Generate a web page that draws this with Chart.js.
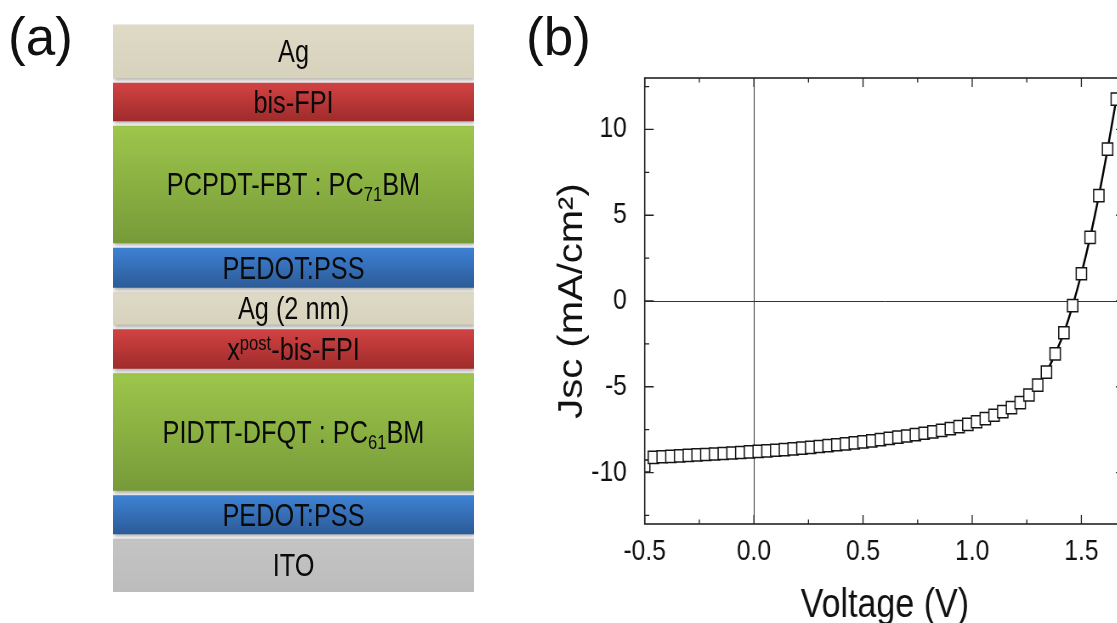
<!DOCTYPE html>
<html>
<head>
<meta charset="utf-8">
<script src="https://cdn.jsdelivr.net/npm/chart.js@4.4.1/dist/chart.umd.min.js"></script>
<style>
  html, body { margin: 0; padding: 0; background: #fff; width: 1117px; height: 623px; overflow: hidden; }
  .panel-tag { position: absolute; font-family: "Liberation Sans", Arial, sans-serif; font-size: 53px; line-height: 53px; color: #111; }
  #stackWrap { position: absolute; left: 0; top: 0; width: 520px; height: 623px; }
  #jvWrap { position: absolute; left: 520px; top: 0; width: 740px; height: 623px; transform: scaleX(0.85); transform-origin: 0 0; }
</style>
</head>
<body>
<div class="panel-tag" style="left:8px; top:10px;">(a)</div>
<div class="panel-tag" style="left:526px; top:10px;">(b)</div>
<div id="stackWrap"><canvas id="stack" width="520" height="623"></canvas></div>
<div id="jvWrap"><canvas id="jv" width="740" height="623"></canvas></div>
<script>
// ---- (a) device stack, listed top to bottom ----
const layerLabels = [
  'Ag',
  'bis-FPI',
  'PCPDT-FBT : PC_{71}BM',
  'PEDOT:PSS',
  'Ag (2 nm)',
  'x^{post}-bis-FPI',
  'PIDTT-DFQT : PC_{61}BM',
  'PEDOT:PSS',
  'ITO'
];
// schematic layer heights (drawing units)
const layerHeights = [53.5, 38, 117, 39.5, 32, 39, 117, 38.5, 53];
const layerGap = 5;

// ---- (b) J-V curve ----
const voltage = [-0.50,-0.46,-0.42,-0.38,-0.34,-0.30,-0.26,-0.22,-0.18,-0.14,
  -0.10,-0.06,-0.02,0.02,0.06,0.10,0.14,0.18,0.22,0.26,
  0.30,0.34,0.38,0.42,0.46,0.50,0.54,0.58,0.62,0.66,
  0.70,0.74,0.78,0.82,0.86,0.90,0.94,0.98,1.02,1.06,
  1.10,1.14,1.18,1.22,1.26,1.30,1.34,1.38,1.42,1.46,
  1.50,1.54,1.58,1.62,1.66];
const currentDensity = [-9.62,-9.12,-9.08,-9.06,-9.03,-9.00,-8.97,-8.95,-8.92,-8.89,
  -8.86,-8.83,-8.80,-8.77,-8.74,-8.70,-8.66,-8.62,-8.58,-8.53,
  -8.48,-8.43,-8.38,-8.33,-8.27,-8.21,-8.15,-8.08,-8.01,-7.94,
  -7.87,-7.79,-7.71,-7.63,-7.54,-7.44,-7.32,-7.19,-7.04,-6.86,
  -6.66,-6.45,-6.22,-5.92,-5.48,-4.90,-4.15,-3.08,-1.85,-0.27,
  1.59,3.71,6.14,8.85,11.77];
const xMinorTicks = [-0.25, 0.25, 0.75, 1.25];
const yMinorTicks = [-12.5, -7.5, -2.5, 2.5, 7.5, 12.5];

const FONT = '"Liberation Sans", Arial, sans-serif';
const SQUEEZE = 0.85;

// fill colours (top, bottom of each layer's gradient)
const palette = {
  ag:    ['#dedac6', '#d7d2bc'],
  red:   ['#d24343', '#a02b2b'],
  green: ['#9dc64b', '#779a39'],
  blue:  ['#3e82d4', '#2c5b98'],
  ito:   ['#c4c4c4', '#bcbcbc']
};
const layerPaint = ['ag', 'red', 'green', 'blue', 'ag', 'red', 'green', 'blue', 'ito'];

// floating ranges, built bottom-up from the heights
const totalHeight = layerHeights.reduce((s, h) => s + h, 0) + layerGap * (layerHeights.length - 1);
const layerRanges = [];
{
  let top = totalHeight;
  layerHeights.forEach(h => { layerRanges.push([top - h, top]); top -= h + layerGap; });
}

function parseRich(s) {
  const out = [];
  s.split(/(_\{[^}]*\}|\^\{[^}]*\})/).forEach(part => {
    if (!part) return;
    if (part.startsWith('_{')) out.push({ t: part.slice(2, -1), m: 'sub' });
    else if (part.startsWith('^{')) out.push({ t: part.slice(2, -1), m: 'sup' });
    else out.push({ t: part, m: 'n' });
  });
  return out;
}

const shadowPlugin = {
  id: 'layerShadow',
  beforeDatasetsDraw(chart) {
    const ctx = chart.ctx;
    ctx.save();
    ctx.shadowColor = 'rgba(0,0,0,0.35)';
    ctx.shadowBlur = 4;
    ctx.shadowOffsetX = 1;
    ctx.shadowOffsetY = 2;
  },
  afterDatasetsDraw(chart) { chart.ctx.restore(); }
};

const layerTextPlugin = {
  id: 'layerText',
  afterDraw(chart) {
    const ctx = chart.ctx;
    const size = 30.5, small = 20;
    chart.data.datasets.forEach((ds, i) => {
      const el = chart.getDatasetMeta(i).data[0];
      const cx = el.x, cy = (el.y + el.base) / 2;
      const segs = parseRich(layerLabels[i]);
      let w = 0;
      segs.forEach(s => {
        ctx.font = (s.m === 'n' ? size : small) + 'px ' + FONT;
        s.w = ctx.measureText(s.t).width;
        w += s.w;
      });
      ctx.save();
      ctx.translate(cx, cy + size * 0.358);
      ctx.scale(0.83, 1);
      ctx.fillStyle = '#0a0a0a';
      ctx.textBaseline = 'alphabetic';
      ctx.textAlign = 'left';
      let x = -w / 2;
      segs.forEach(s => {
        ctx.font = (s.m === 'n' ? size : small) + 'px ' + FONT;
        const dy = s.m === 'sub' ? 6 : (s.m === 'sup' ? -10 : 0);
        ctx.fillText(s.t, x, dy);
        x += s.w;
      });
      ctx.restore();
    });
  }
};

new Chart(document.getElementById('stack'), {
  type: 'bar',
  data: {
    labels: ['stack'],
    datasets: layerRanges.map((r, i) => ({
      label: layerLabels[i],
      data: [r],
      grouped: false,
      barPercentage: 1,
      categoryPercentage: 1,
      borderWidth: 0,
      backgroundColor: (c) => {
        const chart = c.chart;
        const cols = palette[layerPaint[c.datasetIndex]];
        if (!chart.chartArea) return cols[0];
        const ys = chart.scales.y;
        const rr = layerRanges[c.datasetIndex];
        const g = chart.ctx.createLinearGradient(0, ys.getPixelForValue(rr[1]), 0, ys.getPixelForValue(rr[0]));
        g.addColorStop(0, cols[0]);
        g.addColorStop(1, cols[1]);
        return g;
      }
    }))
  },
  options: {
    responsive: false,
    animation: false,
    events: [],
    layout: { padding: { left: 113, right: 46, top: 24.5, bottom: 31 } },
    plugins: { legend: { display: false }, tooltip: { enabled: false } },
    scales: {
      x: { display: false },
      y: { display: false, min: 0, max: totalHeight }
    }
  },
  plugins: [shadowPlugin, layerTextPlugin]
});

// frame with inward major/minor ticks on all four sides
const framePlugin = {
  id: 'frameTicks',
  afterDraw(chart) {
    const { ctx, chartArea: a, scales: { x, y } } = chart;
    ctx.save();
    ctx.strokeStyle = '#222';
    ctx.lineWidth = 1.6;
    ctx.strokeRect(a.left, a.top, a.right - a.left, a.bottom - a.top);
    ctx.lineWidth = 1.3;
    ctx.beginPath();
    const xt = x.ticks.map(t => [t.value, 9]).concat(xMinorTicks.map(v => [v, 4.5]));
    xt.forEach(([v, len]) => {
      const px = x.getPixelForValue(v);
      ctx.moveTo(px, a.bottom); ctx.lineTo(px, a.bottom - len);
      ctx.moveTo(px, a.top); ctx.lineTo(px, a.top + len);
    });
    const yt = y.ticks.map(t => [t.value, 9 / SQUEEZE]).concat(yMinorTicks.map(v => [v, 4.5 / SQUEEZE]));
    yt.forEach(([v, len]) => {
      const py = y.getPixelForValue(v);
      ctx.moveTo(a.left, py); ctx.lineTo(a.left + len, py);
      ctx.moveTo(a.right, py); ctx.lineTo(a.right - len, py);
    });
    ctx.stroke();
    ctx.restore();
  }
};

new Chart(document.getElementById('jv'), {
  type: 'line',
  data: {
    datasets: [{
      label: 'J-V',
      data: voltage.map((v, i) => ({ x: v, y: currentDensity[i] })),
      borderColor: '#000',
      borderWidth: 2.4,
      cubicInterpolationMode: 'monotone',
      pointStyle: 'rect',
      pointRadius: 8.6,
      pointBorderWidth: 1.5,
      pointBorderColor: '#151515',
      pointBackgroundColor: '#fff',
      clip: 0
    }]
  },
  options: {
    responsive: false,
    animation: false,
    events: [],
    layout: { padding: { left: 0, right: 28.2, top: 78, bottom: 0 } },
    plugins: { legend: { display: false }, tooltip: { enabled: false } },
    scales: {
      x: {
        type: 'linear',
        min: -0.5, max: 1.7,
        afterFit: (s) => { s.height = 99; },
        ticks: {
          stepSize: 0.5, includeBounds: false, padding: 11, color: '#111',
          font: { family: FONT, size: 29 },
          callback: (v) => Number(v).toFixed(1)
        },
        grid: {
          drawTicks: false,
          lineWidth: 1,
          color: (c) => (c.tick && c.tick.value === 0 ? '#333' : 'rgba(0,0,0,0)')
        },
        border: { display: false },
        title: {
          display: true, text: 'Voltage (V)', color: '#111',
          font: { family: FONT, size: 40 }, padding: { top: 0, bottom: -7 }
        }
      },
      y: {
        min: -13, max: 13,
        afterFit: (s) => { s.width = 146.7; },
        ticks: {
          stepSize: 5, includeBounds: false, padding: 21, color: '#111',
          font: { family: FONT, size: 29 }
        },
        grid: {
          drawTicks: false,
          lineWidth: 1,
          color: (c) => (c.tick && c.tick.value === 0 ? '#333' : 'rgba(0,0,0,0)')
        },
        border: { display: false },
        title: {
          display: true, text: 'Jsc (mA/cm\u00B2)', color: '#111',
          font: { family: FONT, size: 40 }, padding: { top: 38, bottom: 0 }
        }
      }
    }
  },
  plugins: [framePlugin]
});
</script>
</body>
</html>
